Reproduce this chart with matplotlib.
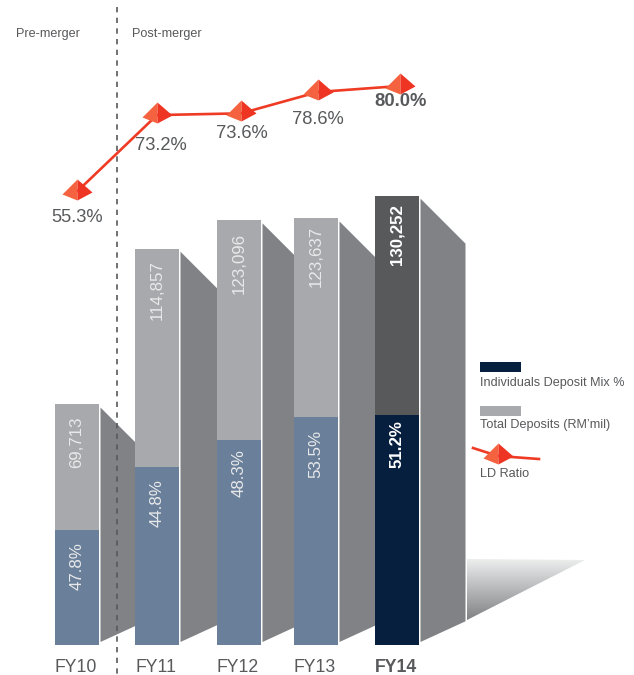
import numpy as np
import matplotlib
matplotlib.use("Agg")
import matplotlib.pyplot as plt
from matplotlib.patches import Polygon, Rectangle
from matplotlib.path import Path
from matplotlib.colors import LinearSegmentedColormap

plt.rcParams['font.family'] = ['Liberation Sans', 'DejaVu Sans']

# Data
years = ["FY10", "FY11", "FY12", "FY13", "FY14"]
total_deposits = [69713, 114857, 123096, 123637, 130252]
individuals_mix = [47.8, 44.8, 48.3, 53.5, 51.2]
ld_ratio = [55.3, 73.2, 73.6, 78.6, 80.0]

# Layout (figure is 634x675, the page axes works in pixels from the top left)
W, H = 634, 675
bar_left = [55, 135, 217, 294, 375]
bar_w = 44
baseline = 645
px_per_rm = 0.00345
deposit_text_gap = [38, 41, 43, 38, 39]
mix_text_gap = [36, 35.5, 33, 37, 29.5]
ratio_label_pos = [(77, 218), (161, 146), (242, 133), (318, 120), (401, 102)]

GREY = "#a7a9ac"
BLUE = "#6a7f9a"
NAVY = "#071f3f"
DARK = "#58595b"
SIDE = "#808285"
RED = "#ef3b24"
TEXT = "#58595b"
SOFT_WHITE = "#e8e9ea"

fig = plt.figure(figsize=(W / 100, H / 100), dpi=100)

# bars axes: y is RM mil
ax = fig.add_axes([0, 0, 1, 1], zorder=1)
ax.set_xlim(0, W)
ax.set_ylim(-(H - baseline) / px_per_rm, baseline / px_per_rm)
ax.axis("off")

# page axes for the annotations
page = fig.add_axes([0, 0, 1, 1], zorder=2)
page.set_xlim(0, W)
page.set_ylim(H, 0)
page.axis("off")

# line axes: y is the LD ratio in %
lax = fig.add_axes([0, 0, 1, 1], zorder=3)
lax.set_xlim(0, W)
px_per_pct = 4.276
lax.set_ylim(72.14 - (H - 119.6) / px_per_pct, 72.14 + 119.6 / px_per_pct)
lax.axis("off")

deposits = np.array(total_deposits, dtype=float)
mix_part = deposits * np.array(individuals_mix) / 100
lefts = np.array(bar_left, dtype=float)

# slanted side faces, each runs into the next bar
for i in range(len(years)):
    x0 = lefts[i] + bar_w + 1.5
    x1 = lefts[i + 1] if i + 1 < len(years) else x0 + 45
    d = x1 - x0
    top0 = deposits[i] - 3 / px_per_rm
    top1 = top0 - d / px_per_rm
    bot0 = 3 / px_per_rm
    bot1 = bot0 + 0.46 * d / px_per_rm
    ax.add_patch(Polygon([(x0, top0), (x1, top1), (x1, bot1), (x0, bot0)],
                         facecolor=SIDE, edgecolor="none", zorder=1))

# stacked bars, FY14 is highlighted
low_colors = [BLUE, BLUE, BLUE, BLUE, NAVY]
high_colors = [GREY, GREY, GREY, GREY, DARK]
ax.bar(lefts, mix_part, width=bar_w, align="edge", color=low_colors, zorder=2)
ax.bar(lefts, deposits - mix_part, bottom=mix_part, width=bar_w, align="edge",
       color=high_colors, zorder=2)

# labels inside the bars
for i in range(len(years)):
    cx = lefts[i] + bar_w / 2
    last = years[i] == "FY14"
    bold = "bold" if last else "normal"
    col = "white" if last else SOFT_WHITE
    ax.text(cx, deposits[i] - deposit_text_gap[i] / px_per_rm,
            f"{total_deposits[i]:,}", rotation=90, color=col, fontsize=12.2,
            ha="center", va="center", fontweight=bold, zorder=3)
    ax.text(cx, mix_part[i] - mix_text_gap[i] / px_per_rm, f"{individuals_mix[i]}%",
            rotation=90, color=col, fontsize=12.2, ha="center", va="center",
            fontweight=bold, zorder=3)
    page.text(cx - 1, 668, years[i], color=TEXT, fontsize=12.7, ha="center",
              va="center", fontweight=bold)

# merger divider
page.plot([117, 117], [7, H], color=DARK, lw=1.2, dashes=(3.2, 3.2))
page.text(16, 34, "Pre-merger", color=TEXT, fontsize=9.1, ha="left", va="center")
page.text(132, 34, "Post-merger", color=TEXT, fontsize=9.1, ha="left", va="center")

# gradient wedge at the foot of the chart
tri = Polygon([(467, 559), (585, 560), (467, 620)], transform=page.transData,
              facecolor="none", edgecolor="none")
page.add_patch(tri)
fade = LinearSegmentedColormap.from_list("fade", ["#eceded", "#808285"])
im = page.imshow(np.linspace(0, 1, 64).reshape(-1, 1), cmap=fade, aspect="auto",
                 extent=(467, 585, 620, 559), zorder=1)
im.set_clip_path(tri)
page.set_xlim(0, W)
page.set_ylim(H, 0)

# pyramid markers, two faces
face_left = Path([(0, 13), (-15, -2), (0, -8), (0, 13)], closed=True)
face_right = Path([(0, 13), (15, 0), (0, -8), (0, 13)], closed=True)
marker_size = 21.6
bar_centres = lefts + bar_w / 2 + np.array([0, 0, 2, 2, 3])

lax.plot(bar_centres, ld_ratio, color=RED, lw=1.9, zorder=2, solid_capstyle="butt")
lax.plot(bar_centres, ld_ratio, ls="none", marker=face_left, ms=marker_size,
         mfc="#f4623f", mec="none", zorder=3)
lax.plot(bar_centres, ld_ratio, ls="none", marker=face_right, ms=marker_size,
         mfc="#ee3524", mec="none", zorder=3)

for i, (tx, ty) in enumerate(ratio_label_pos):
    bold = "bold" if years[i] == "FY14" else "normal"
    page.text(tx, ty, f"{ld_ratio[i]:.1f}%", color=TEXT, fontsize=13.2,
              ha="center", va="center", fontweight=bold)

# legend
page.add_patch(Rectangle((480, 362), 41, 10, facecolor=NAVY, edgecolor="none"))
page.text(480, 383, "Individuals Deposit Mix %", color=TEXT, fontsize=9.1,
          ha="left", va="center")
page.add_patch(Rectangle((480, 406), 41, 10, facecolor=GREY, edgecolor="none"))
page.text(480, 425, "Total Deposits (RM\u2019mil)", color=TEXT, fontsize=9.1,
          ha="left", va="center")
page.plot([473, 498, 539], [448, 456, 459], color=RED, lw=1.9)
page.plot([498], [456], ls="none", marker=face_left, ms=marker_size, mfc="#f4623f", mec="none")
page.plot([498], [456], ls="none", marker=face_right, ms=marker_size, mfc="#ee3524", mec="none")
page.text(480, 474, "LD Ratio", color=TEXT, fontsize=9.1, ha="left", va="center")

fig.savefig("out.png", dpi=100, facecolor="white")
